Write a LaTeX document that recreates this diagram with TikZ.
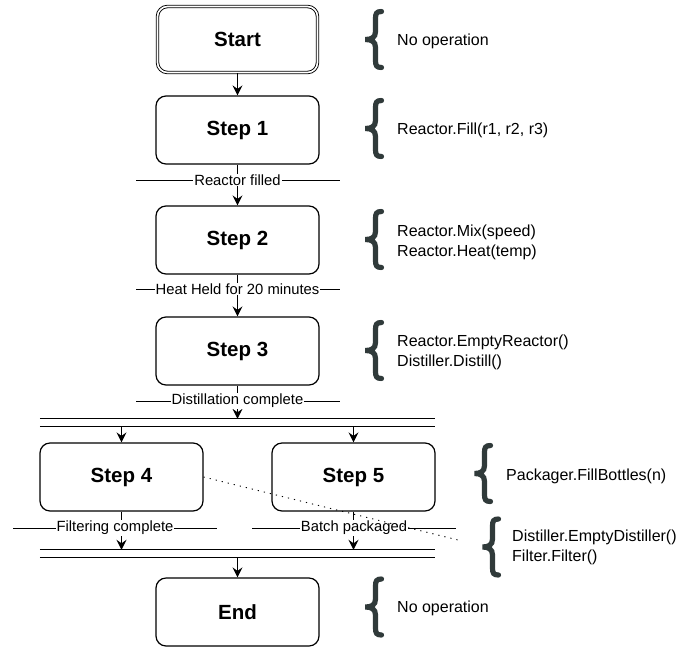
\documentclass[tikz,border=0pt]{standalone}
\usepackage{fontspec}
\setmainfont{Liberation Sans}
\usetikzlibrary{arrows.meta}
\definecolor{bracec}{RGB}{48,58,58}
\tikzset{
  stepbox/.style={draw, line width=1.2pt, rounded corners=10pt, minimum width=163pt, minimum height=68pt, fill=white, font=\fontsize{20.5}{24}\selectfont\bfseries},
  startbox/.style={stepbox, double, double distance=1.6pt, line width=0.9pt, minimum width=160pt, minimum height=66pt},
  flow/.style={line width=1.2pt, -{Stealth[length=10pt,width=10pt,inset=3.5pt]}},
  guardline/.style={line width=0.9pt},
  guardlbl/.style={fill=white, inner sep=1pt, font=\fontsize{14.8}{17}\selectfont},
  optext/.style={anchor=west, align=left, inner sep=0pt, font=\fontsize{16}{20}\selectfont},
  bar/.style={minimum width=395pt, minimum height=7pt, inner sep=0pt},
  curly/.pic={\draw[bracec, line width=5.2pt, line cap=round]
     (16,-28) .. controls (11,-28) and (10,-26) .. (10,-21) -- (10,-8)
     .. controls (10,-2) and (6,0) .. (0,0)
     .. controls (6,0) and (10,2) .. (10,8) -- (10,21)
     .. controls (10,26) and (11,28) .. (16,28);}
}
\begin{document}
\begin{tikzpicture}[x=1pt,y=-1pt]
\useasboundingbox (0,0) rectangle (679,648);

% boxes
\node[startbox] (start) at (237.5,39.5) {Start};
\node[stepbox] (s1) at (237.5,130) {Step 1};
\node[stepbox] (s2) at (237.5,240) {Step 2};
\node[stepbox] (s3) at (237.5,351) {Step 3};
\node[bar] (fork) at (237.5,422.5) {};
\node[stepbox] (s4) at (121.5,477) {Step 4};
\node[stepbox] (s5) at (353.5,477) {Step 5};
\node[bar] (join) at (237.5,553.5) {};
\node[stepbox] (end) at (237.5,612) {End};

% bars
\draw[line width=1.2pt] (fork.north west) -- (fork.north east);
\draw[line width=1.2pt] (fork.south west) -- (fork.south east);
\draw[line width=1.2pt] (join.north west) -- (join.north east);
\draw[line width=1.2pt] (join.south west) -- (join.south east);

% flows
\draw[flow] (start) -- (s1);
\draw[flow] (s1) -- (s2);
\draw[flow] (s2) -- (s3);
\draw[flow] (s3.south) -- (fork.north);
\draw[flow] (fork.south -| s4.north) -- (s4.north);
\draw[flow] (fork.south -| s5.north) -- (s5.north);
\draw[flow] (s4.south) -- (join.north -| s4.south);
\draw[flow] (s5.south) -- (join.north -| s5.south);
\draw[flow] (join.south) -- (end.north);

% guards
\coordinate (g1a) at (136,180); \coordinate (g1b) at (340,180);
\draw[guardline] (g1a) -- (g1b);
\node[guardlbl] (g1) at (237.5,180) {Reactor filled};
\coordinate (g2a) at (136,289); \coordinate (g2b) at (340,289);
\draw[guardline] (g2a) -- (g2b);
\node[guardlbl] (g2) at (237.5,289) {Heat Held for 20 minutes};
\coordinate (g3a) at (136,401); \coordinate (g3b) at (340,401);
\draw[guardline] (g3a) -- (g3b);
\node[guardlbl] (g3) at (237.5,401) {Distillation complete};
\coordinate (g4a) at (13,528); \coordinate (g4b) at (217,528);
\draw[guardline] (g4a) -- (g4b);
\node[guardlbl] (g4) at (115,528) {Filtering complete};
\coordinate (g5a) at (252,528); \coordinate (g5b) at (456,528);
\draw[guardline] (g5a) -- (g5b);
\node[guardlbl] (g5) at (354,528) {Batch packaged};

% dotted link
\coordinate (dend) at (458,540);
\draw[line width=0.9pt, dash pattern=on 1.2pt off 5pt] (s4.east) -- (dend);

% braces and operations
\pic at (365.5,39.5) {curly};
\node[optext] (o1) at (397,41) {No operation};
\pic at (365.5,128.5) {curly};
\node[optext] (o2) at (397,130) {Reactor.Fill(r1, r2, r3)};
\pic at (365.5,239.5) {curly};
\node[optext] (o3) at (397,242) {Reactor.Mix(speed)\\Reactor.Heat(temp)};
\pic at (365.5,350.5) {curly};
\node[optext] (o4) at (397,352) {Reactor.EmptyReactor()\\Distiller.Distill()};
\pic at (474.5,473.5) {curly};
\node[optext] (o5) at (506,476) {Packager.FillBottles(n)};
\pic at (482.5,547) {curly};
\node[optext] (o6) at (512,547.5) {Distiller.EmptyDistiller()\\Filter.Filter()};
\pic at (365.5,607) {curly};
\node[optext] (o7) at (397,608) {No operation};
\end{tikzpicture}
\end{document}
